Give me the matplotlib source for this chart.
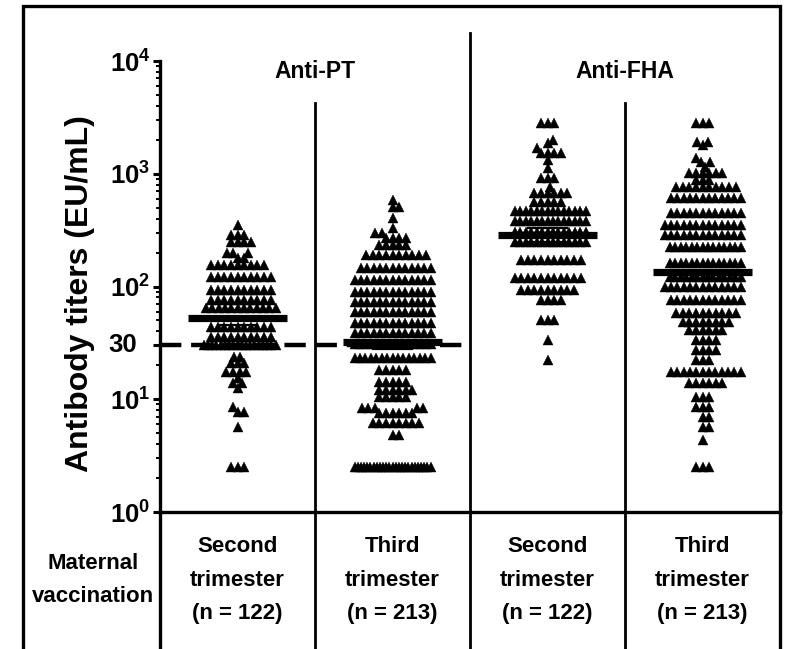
import numpy as np
import matplotlib
matplotlib.use("Agg")
import matplotlib.pyplot as plt
from matplotlib import font_manager
from matplotlib.transforms import blended_transform_factory
from matplotlib.patches import Rectangle
from matplotlib.lines import Line2D
from matplotlib.ticker import LogLocator, FixedLocator, NullFormatter

# ---------------- data ----------------
group_labels = ["Second\ntrimester\n(n = 122)", "Third\ntrimester\n(n = 213)",
                "Second\ntrimester\n(n = 122)", "Third\ntrimester\n(n = 213)"]
antigen_labels = ["Anti-PT", "Anti-FHA"]
row_label = "Maternal\nvaccination"
y_label = "Antibody titers (EU/mL)"
threshold = 30

pt_second_values = [351, 286, 248, 198, 179, 155, 121, 93, 76, 64, 44, 36, 30,
                    23.7, 21, 17.5, 15.4, 13.9, 12.6, 8.5, 7.7, 5.7, 2.5]
pt_second_counts = [1, 3, 4, 3, 2, 9, 10, 10, 10, 12, 10, 10, 18,
                    2, 3, 4, 1, 2, 1, 1, 2, 1, 3]

pt_third_values = [585, 507, 405, 330, 298, 269, 233, 190, 146, 114, 89, 73, 59, 47,
                   39, 31, 23, 18, 14.2, 12.1, 10.5, 8.4, 7.6, 6.2, 4.8, 2.5]
pt_third_counts = [1, 2, 1, 1, 2, 4, 5, 10, 12, 13, 13, 13, 13, 13,
                   13, 15, 15, 5, 5, 6, 5, 5, 6, 8, 2, 25]

fha_second_values = [2820, 1990, 1870, 1690, 1527, 1324, 1125, 916, 762, 675, 561,
                     468, 381, 304, 248, 172, 119, 93, 76, 50, 33.5, 22.3]
fha_second_counts = [3, 1, 1, 1, 4, 1, 1, 3, 1, 6, 5,
                     14, 14, 14, 14, 10, 11, 9, 4, 3, 1, 1]

fha_third_values = [2820, 1913, 1798, 1379, 1270, 1148, 1016, 880, 763, 609, 449, 351,
                    286, 224, 162, 121, 99, 76, 58, 48, 41, 33.5, 27.3, 22.3, 17.5,
                    13.9, 10.5, 8.5, 7.0, 5.7, 4.35, 2.5]
fha_third_counts = [3, 2, 1, 1, 2, 1, 6, 3, 10, 12, 12, 13,
                    13, 14, 14, 14, 13, 12, 10, 8, 6, 4, 4, 3, 12,
                    6, 3, 3, 2, 2, 1, 3]

gmt_values = [53, 32, 286, 134]
ci_lower = [46, 28, 250, 116]
ci_upper = [62, 37, 330, 156]

# ---------------- style ----------------
plt.rcParams["font.family"] = ["Liberation Sans", "DejaVu Sans"]
plt.rcParams["font.weight"] = "bold"
plt.rcParams["mathtext.fontset"] = "custom"
plt.rcParams["mathtext.rm"] = "Liberation Sans:bold"
plt.rcParams["mathtext.bf"] = "Liberation Sans:bold"
plt.rcParams["mathtext.it"] = "Liberation Sans:bold:italic"

installed = {f.name for f in font_manager.fontManager.ttflist}
if "Liberation Sans Narrow" in installed:
    LAB_FAM = ["Liberation Sans Narrow", "Liberation Sans", "DejaVu Sans"]
    LAB_SIZE, HEAD_SIZE, LSP = 19, 19, 1.49
else:
    LAB_FAM = ["Liberation Sans", "DejaVu Sans"]
    LAB_SIZE, HEAD_SIZE, LSP = 16, 16.5, 1.75

W, H = 786, 649
fig = plt.figure(figsize=(W / 100, H / 100), dpi=100)
ax = fig.add_axes([160 / W, (H - 512) / H, 620 / W, 451 / H])
ax.set_yscale("log")
ax.set_ylim(1, 1e4)
ax.set_xlim(0, 4)

# pixel scales for the swarm layout
px_per_decade = 451 / 4.0
px_per_unit = 620 / 4.0


def swarm_offsets(vals, d=6.6, half=38.0):
    y = np.log10(vals) * px_per_decade
    order = np.argsort(y, kind="stable")
    xs = np.zeros(len(vals))
    placed = []
    for i in order:
        yi = y[i]
        near = [(xs[j], y[j]) for j in placed if abs(y[j] - yi) < d]
        cands = [0.0]
        for xj, yj in near:
            dx = np.sqrt(d * d - (yj - yi) ** 2)
            cands += [xj + dx, xj - dx]
        cands.sort(key=abs)
        for c in cands:
            if all((c - xj) ** 2 + (yj - yi) ** 2 >= d * d - 1e-6 for xj, yj in near):
                xs[i] = c
                break
        placed.append(i)
    for v in np.unique(vals):
        m = vals == v
        ext = np.abs(xs[m]).max()
        if ext > half:
            xs[m] *= half / ext
    return xs / px_per_unit


series = [(pt_second_values, pt_second_counts), (pt_third_values, pt_third_counts),
          (fha_second_values, fha_second_counts), (fha_third_values, fha_third_counts)]

for k, (vals, cnts) in enumerate(series):
    v = np.repeat(np.array(vals, dtype=float), cnts)
    xo = swarm_offsets(v)
    ax.plot(k + 0.5 + xo, v, linestyle="none", marker="^", ms=6.6,
            mfc="black", mec="black", mew=0.3, zorder=3)
    ax.plot([k + 0.18, k + 0.82], [gmt_values[k]] * 2, color="black", lw=5.2,
            solid_capstyle="butt", zorder=5)
    for c in (ci_lower[k], ci_upper[k]):
        ax.plot([k + 0.37, k + 0.63], [c, c], color="black", lw=1.6,
                solid_capstyle="butt", zorder=5)

# threshold line across the anti-PT panel
ax.plot([0, 2], [threshold, threshold], color="black", lw=3.2,
        dashes=(4.8, 2.2), zorder=4, clip_on=False)

# axes styling
for s in ["top", "right"]:
    ax.spines[s].set_visible(False)
ax.spines["left"].set_linewidth(2.4)
ax.spines["bottom"].set_linewidth(2.4)
ax.set_xticks([])
ax.yaxis.set_major_locator(FixedLocator([1, 10, 30, 100, 1000, 10000]))
ax.yaxis.set_minor_locator(LogLocator(base=10, subs=np.arange(2, 10)))
ax.yaxis.set_minor_formatter(NullFormatter())
ax.set_yticklabels([r"$10^{0}$", r"$10^{1}$", "", r"$10^{2}$", r"$10^{3}$", r"$10^{4}$"])
ax.tick_params(axis="y", which="major", length=5, width=2.2, labelsize=18.5, pad=2)
ax.tick_params(axis="y", which="minor", length=3, width=1.4)
ax.text(-0.15, threshold, "30", transform=ax.transData, ha="right", va="center",
        fontsize=18.5, fontweight="bold")

ax.set_ylabel(y_label, fontsize=23, fontweight="bold", va="center", ha="center")
ax.yaxis.set_label_coords(80 / W, 1 - 294 / H, transform=fig.transFigure)

bt = blended_transform_factory(ax.transData, fig.transFigure)
# separators
for xs_, top in [(0, (H - 512) / H), (1, 1 - 103 / H), (2, 1 - 33 / H), (3, 1 - 103 / H)]:
    lw = 2.4 if xs_ == 0 else 2.0
    fig.add_artist(Line2D([xs_, xs_], [0, top], transform=bt, color="black", lw=lw))

# antigen headers
for xi, lab in zip([1, 3], antigen_labels):
    fig.text(xi, 1 - 71 / H, lab, transform=bt, ha="center", va="center",
             fontsize=HEAD_SIZE, fontweight="bold", family=LAB_FAM)

# group labels
for k, lab in enumerate(group_labels):
    fig.text(k + 0.5, 1 - 580 / H, lab, transform=bt, ha="center", va="center",
             fontsize=LAB_SIZE, fontweight="bold", linespacing=LSP, family=LAB_FAM)
fig.text(93 / W, 1 - 580 / H, row_label, ha="center", va="center",
         fontsize=LAB_SIZE, fontweight="bold", linespacing=LSP * 1.0, family=LAB_FAM)

# outer frame
fig.add_artist(Rectangle((23 / W, -0.02), (780 - 23) / W, 1.02 - 6 / H,
                         transform=fig.transFigure, fill=False, lw=2.4,
                         edgecolor="black"))

fig.savefig("out.png", dpi=100)
